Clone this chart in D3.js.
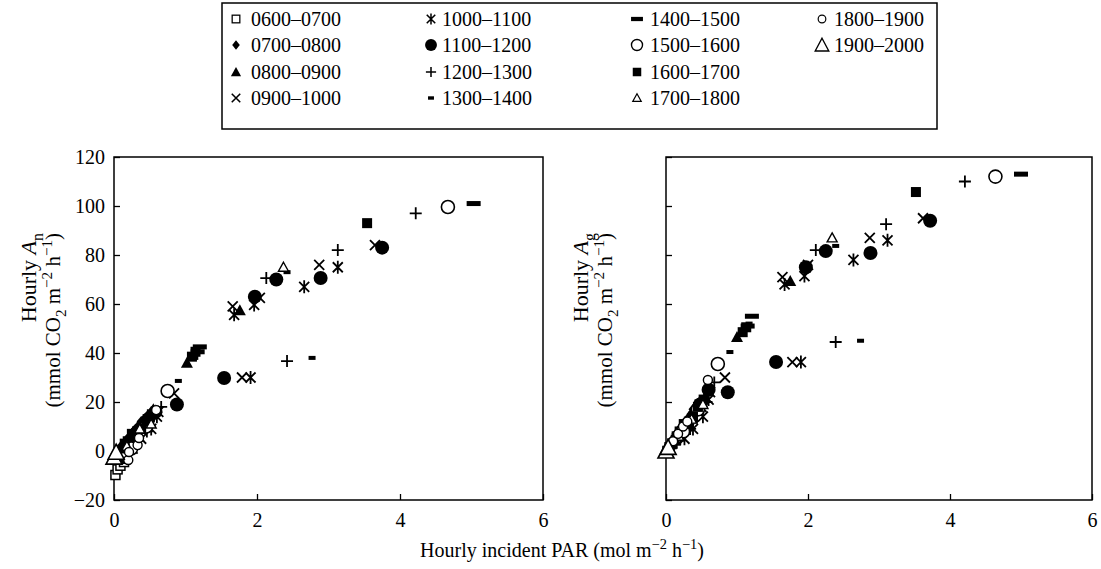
<!DOCTYPE html>
<html>
  <head>
    <meta charset="utf-8">
    <style>
      body { margin: 0; background: #fff; }
      svg { display: block; }
      text { font-family: "Liberation Serif", "Times New Roman", serif; fill: #000; }
    </style>
  </head>
  <body>
    <script src="https://cdn.jsdelivr.net/npm/d3@7"></script>
    <script>
      var width = 1101, height = 569;

      // hour classes, legend order (column by column)
      var hours = ["0600\u20130700", "0700\u20130800", "0800\u20130900", "0900\u20131000",
                   "1000\u20131100", "1100\u20131200", "1200\u20131300", "1300\u20131400",
                   "1400\u20131500", "1500\u20131600", "1600\u20131700", "1700\u20131800",
                   "1800\u20131900", "1900\u20132000"];
      var marks = ["openSquare", "diamond", "triangle", "cross",
                   "asterisk", "dot", "plus", "dashShort",
                   "dashLong", "circle", "square", "triSmall",
                   "circleSmall", "triBig"];

      var xTicks = [0, 2, 4, 6];
      var yTicks = [-20, 0, 20, 40, 60, 80, 100, 120];

      // net assimilation An  [PAR, An]
      var an0600 = [[0.02, -9.8], [0.05, -7.5], [0.09, -6], [0.14, -4.5]];
      var an0700 = [[0.06, 0], [0.1, 2], [0.14, 3], [0.19, 5], [0.22, 6], [0.27, 8], [0.3, 9], [0.35, 10], [0.38, 12], [0.43, 13], [0.47, 14.5]];
      var an0800 = [[0.04, -1], [0.08, 1], [0.12, 2], [0.16, 4], [0.2, 5], [0.25, 7], [0.28, 8], [0.33, 10], [0.42, 12], [0.5, 15], [0.55, 17], [1.02, 36], [1.76, 57.5]];
      var an0900 = [[0.18, 2], [0.32, 6], [0.5, 12], [0.62, 16], [0.84, 23.5], [1.66, 59], [1.79, 30], [2.04, 62.5], [2.87, 76], [3.65, 84]];
      var an1000 = [[0.26, 1], [0.38, 5], [0.52, 9], [0.6, 14], [1.68, 55.6], [1.91, 30], [1.96, 59.6], [2.66, 67], [3.13, 75]];
      var an1100 = [[0.3, 6], [0.48, 13], [0.58, 16], [0.88, 19], [1.54, 29.8], [1.97, 63], [2.27, 70], [2.89, 70.6], [3.75, 83]];
      var an1200 = [[0.34, 4], [0.46, 8], [0.66, 18], [2.13, 70.6], [2.42, 36.7], [3.13, 82], [4.22, 97]];
      var an1300 = [[0.1, -4], [0.16, -4.5], [0.4, 8], [0.9, 28.6], [1.13, 38], [2.42, 73], [2.77, 38]];
      var an1400 = [[0.22, 5], [0.35, 9], [0.44, 11], [0.5, 14], [1.17, 40.5], [1.2, 42.5], [5.03, 101]];
      var an1500 = [[0.24, 1], [0.45, 10], [0.75, 24.5], [4.67, 99.6]];
      var an1600 = [[0.15, 3], [0.25, 7], [0.38, 9], [0.45, 12], [0.53, 15], [1.09, 38.5], [1.14, 40.5], [3.54, 93]];
      var an1700 = [[0.18, 2], [0.36, 9], [0.52, 11], [2.37, 75]];
      var an1800 = [[0.2, -3.7], [0.21, -0.4], [0.33, 2.4], [0.35, 5.3], [0.59, 16.7]];
      var an1900 = [[0.0, -2.5], [0.03, -0.5]];

      // gross assimilation Ag  [PAR, Ag]
      var ag0600 = [[0.02, 0], [0.05, 1.5], [0.09, 3], [0.14, 4.5]];
      var ag0700 = [[0.06, 3], [0.1, 5], [0.14, 7], [0.19, 9], [0.22, 10], [0.27, 12], [0.3, 13], [0.35, 15], [0.38, 17], [0.43, 18.5], [0.47, 20]];
      var ag0800 = [[0.04, 2], [0.08, 3.5], [0.12, 5], [0.16, 7], [0.2, 8], [0.25, 10.5], [0.28, 12], [0.33, 14], [0.42, 17], [0.5, 20], [0.55, 22], [1.0, 46.5], [1.75, 69.4]];
      var ag0900 = [[0.18, 6], [0.32, 11], [0.5, 18], [0.62, 24], [0.83, 30], [1.64, 71], [1.78, 36.3], [2.0, 76], [2.87, 87], [3.62, 95]];
      var ag1000 = [[0.26, 5], [0.38, 9], [0.52, 14], [0.6, 21], [1.67, 68], [1.9, 36.3], [1.95, 71.4], [2.64, 78], [3.12, 86]];
      var ag1100 = [[0.3, 11], [0.48, 19], [0.6, 25], [0.87, 24], [1.55, 36.3], [1.97, 75], [2.25, 81.6], [2.88, 80.8], [3.72, 94]];
      var ag1200 = [[0.34, 9], [0.57, 20], [0.68, 28], [2.11, 82], [2.39, 44.5], [3.1, 92.6], [4.21, 110]];
      var ag1300 = [[0.1, 1.5], [0.16, 3], [0.4, 12], [0.9, 40.4], [1.17, 52], [2.39, 83.7], [2.74, 45]];
      var ag1400 = [[0.22, 9], [0.35, 13], [0.44, 16], [0.5, 20], [1.15, 51], [1.21, 55], [5.0, 113]];
      var ag1500 = [[0.24, 8], [0.45, 17], [0.73, 35.5], [4.64, 112]];
      var ag1600 = [[0.15, 6], [0.25, 11], [0.38, 14], [0.45, 18], [0.53, 21], [1.08, 48.5], [1.13, 50.5], [3.52, 105.7]];
      var ag1700 = [[0.18, 6], [0.36, 13], [0.52, 19], [2.34, 87]];
      var ag1800 = [[0.1, 4], [0.17, 7], [0.24, 10], [0.3, 12], [0.59, 29]];
      var ag1900 = [[0.0, 0], [0.03, 1.5]];

      var anSeries = [an0600, an0700, an0800, an0900, an1000, an1100, an1200,
                      an1300, an1400, an1500, an1600, an1700, an1800, an1900];
      var agSeries = [ag0600, ag0700, ag0800, ag0900, ag1000, ag1100, ag1200,
                      ag1300, ag1400, ag1500, ag1600, ag1700, ag1800, ag1900];

      var svg = d3.select("body").append("svg")
          .attr("width", width)
          .attr("height", height);

      // draws one marker centred on the group origin
      function drawMark(g, kind) {
        switch (kind) {
          case "openSquare":
            g.append("rect").attr("x", -4.5).attr("y", -4.5).attr("width", 9).attr("height", 9)
              .attr("fill", "#fff").attr("stroke", "#000").attr("stroke-width", 1.5); break;
          case "diamond":
            g.append("path").attr("d", "M0,-5.5L4.5,0L0,5.5L-4.5,0Z").attr("fill", "#000"); break;
          case "triangle":
            g.append("path").attr("d", "M0,-6L6,5L-6,5Z").attr("fill", "#000"); break;
          case "cross":
            g.append("path").attr("d", "M-5,-5L5,5M-5,5L5,-5")
              .attr("stroke", "#000").attr("stroke-width", 1.8).attr("fill", "none"); break;
          case "asterisk":
            g.append("path").attr("d", "M-5,-5L5,5M-5,5L5,-5M0,-6.5L0,6.5")
              .attr("stroke", "#000").attr("stroke-width", 1.8).attr("fill", "none"); break;
          case "dot":
            g.append("circle").attr("r", 7).attr("fill", "#000"); break;
          case "plus":
            g.append("path").attr("d", "M-6,0H6M0,-6V6")
              .attr("stroke", "#000").attr("stroke-width", 1.8).attr("fill", "none"); break;
          case "dashShort":
            g.append("rect").attr("x", -3.5).attr("y", -2).attr("width", 7).attr("height", 4).attr("fill", "#000"); break;
          case "dashLong":
            g.append("rect").attr("x", -7).attr("y", -2.5).attr("width", 14).attr("height", 5).attr("fill", "#000"); break;
          case "circle":
            g.append("circle").attr("r", 6.5).attr("fill", "#fff")
              .attr("stroke", "#000").attr("stroke-width", 1.6); break;
          case "square":
            g.append("rect").attr("x", -5).attr("y", -5).attr("width", 10).attr("height", 10).attr("fill", "#000"); break;
          case "triSmall":
            g.append("path").attr("d", "M0,-5L5,4L-5,4Z").attr("fill", "#fff")
              .attr("stroke", "#000").attr("stroke-width", 1.4); break;
          case "circleSmall":
            g.append("circle").attr("r", 4.5).attr("fill", "#fff")
              .attr("stroke", "#000").attr("stroke-width", 1.4); break;
          case "triBig":
            g.append("path").attr("d", "M0,-8L8,7L-8,7Z").attr("fill", "#fff")
              .attr("stroke", "#000").attr("stroke-width", 1.6); break;
        }
      }

      // text made of plain / italic / sub / sup pieces
      function richText(t, parts, size) {
        var shift = 0;
        parts.forEach(function (p) {
          var s = t.append("tspan").text(p.t);
          var target = p.sub ? size * 0.3 : (p.sup ? -size * 0.4 : 0);
          if (target !== shift) { s.attr("dy", target - shift); shift = target; }
          if (p.sub || p.sup) s.attr("font-size", size * 0.72);
          if (p.it) s.attr("font-style", "italic");
        });
      }

      function panel(x, y, series, withLabels, titleX, sym) {
        var g = svg.append("g");

        var yAxis = d3.axisLeft(y).tickValues(yTicks).tickSize(-6).tickPadding(9)
          .tickFormat(function (d) { return d < 0 ? "\u2212" + Math.abs(d) : String(d); });
        if (!withLabels) yAxis.tickFormat("");
        g.append("g")
          .attr("transform", "translate(" + x.range()[0] + ",0)")
          .call(yAxis);

        g.append("g")
          .attr("transform", "translate(0," + y.range()[0] + ")")
          .call(d3.axisBottom(x).tickValues(xTicks).tickSize(-6).tickPadding(13)
            .tickFormat(function (d) { return String(d); }));

        g.selectAll(".domain").remove();
        g.selectAll(".tick line").attr("stroke", "#000").attr("stroke-width", 1.3);
        g.selectAll(".tick text").attr("font-size", 20);

        g.append("rect")
          .attr("x", x.range()[0]).attr("y", y.range()[1])
          .attr("width", x.range()[1] - x.range()[0])
          .attr("height", y.range()[0] - y.range()[1])
          .attr("fill", "none").attr("stroke", "#000").attr("stroke-width", 1.5);

        series.forEach(function (pts, i) {
          g.append("g").selectAll("g")
            .data(pts)
            .enter().append("g")
            .attr("transform", function (d) { return "translate(" + x(d[0]) + "," + y(d[1]) + ")"; })
            .each(function () { drawMark(d3.select(this), marks[i]); });
        });

        var t1 = svg.append("text")
          .attr("transform", "translate(" + titleX + ",233) rotate(-90)")
          .attr("text-anchor", "end").attr("font-size", 22);
        richText(t1, [{ t: "Hourly " }, { t: "A", it: true }, { t: sym, sub: true }], 22);

        var t2 = svg.append("text")
          .attr("transform", "translate(" + (titleX + 24) + ",233) rotate(-90)")
          .attr("text-anchor", "end").attr("font-size", 21);
        richText(t2, [{ t: "(mmol CO" }, { t: "2", sub: true }, { t: " m" }, { t: "\u22122", sup: true },
                      { t: " h" }, { t: "\u22121", sup: true }, { t: ")" }], 21);
      }

      var xL = d3.scaleLinear().domain([0, 6]).range([114, 543]);
      var yL = d3.scaleLinear().domain([-20, 120]).range([500, 157]);
      var xR = d3.scaleLinear().domain([0, 6]).range([666, 1092]);
      var yR = d3.scaleLinear().domain([-20, 120]).range([500, 157]);

      panel(xL, yL, anSeries, true, 36, "n");
      panel(xR, yR, agSeries, false, 588, "g");

      var xt = svg.append("text")
        .attr("x", 562).attr("y", 557)
        .attr("text-anchor", "middle").attr("font-size", 20);
      richText(xt, [{ t: "Hourly incident PAR (mol m" }, { t: "\u22122", sup: true },
                    { t: " h" }, { t: "\u22121", sup: true }, { t: ")" }], 20);

      // legend
      var legend = svg.append("g");
      legend.append("rect")
        .attr("x", 222).attr("y", 3).attr("width", 715).attr("height", 126)
        .attr("fill", "#fff").attr("stroke", "#000").attr("stroke-width", 1.5);

      var colSym = [236, 431, 637, 822], colText = [251, 442, 650, 834];
      var rowY = [19, 45, 72, 98];
      hours.forEach(function (h, i) {
        var c = Math.floor(i / 4), r = i % 4;
        var s = legend.append("g").attr("transform", "translate(" + colSym[c] + "," + rowY[r] + ") scale(0.85)");
        drawMark(s, marks[i]);
        legend.append("text")
          .attr("x", colText[c]).attr("y", rowY[r] + 7)
          .attr("font-size", 20)
          .text(h);
      });
    </script>
  </body>
</html>
